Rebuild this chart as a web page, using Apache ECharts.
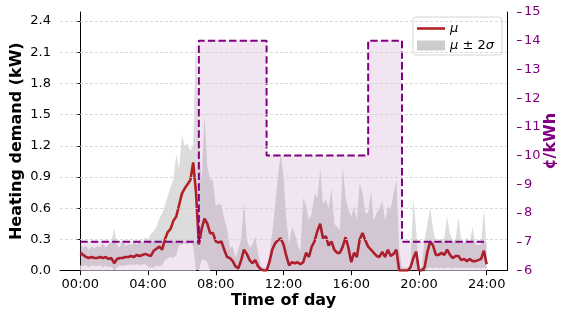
<!DOCTYPE html>
<html><head><meta charset="utf-8">
<script src="https://cdn.jsdelivr.net/npm/echarts@6/dist/echarts.min.js"></script>
<style>html,body{margin:0;padding:0;background:#fff}#c{width:565px;height:310px}</style>
</head><body><div id="c"></div><script>
// sampling step of the demand profile (minutes)
const STEP_MIN = 10;
// mean heating demand (kW), every 10 min from 00:00 to 24:00
const meanKW = [
0.17,0.15,0.13,0.12,0.13,0.12,0.12,0.13,0.12,0.13,0.11,0.12,0.07,0.11,0.12,0.12,0.13,0.13,0.14,0.13,0.15,0.14,0.15,0.16,
0.15,0.14,0.19,0.21,0.23,0.20,0.30,0.37,0.40,0.48,0.52,0.63,0.74,0.79,0.83,0.87,1.04,0.75,
0.25,0.40,0.50,0.45,0.36,0.36,0.28,0.27,0.28,0.20,0.13,0.12,0.09,0.04,0.02,0.10,0.20,0.16,0.10,0.07,0.10,0.04,0.01,0.00,
0.00,0.08,0.20,0.26,0.29,0.31,0.25,0.14,0.05,0.08,0.07,0.08,0.06,0.08,0.17,0.13,0.23,0.28,0.38,0.45,0.31,0.33,0.24,0.28,
0.20,0.17,0.17,0.23,0.32,0.22,0.08,0.17,0.13,0.30,0.36,0.29,0.23,0.20,0.17,0.14,0.13,0.18,0.13,0.20,0.14,0.16,0.20,0.00,
0.00,0.00,0.00,0.03,0.12,0.18,0.00,0.00,0.03,0.18,0.28,0.24,0.15,0.15,0.17,0.15,0.20,0.15,0.12,0.14,0.14,0.10,0.11,0.09,
0.11,0.09,0.09,0.10,0.11,0.19,0.06];
// upper edge of the mu +/- 2 sigma band (kW)
const upperKW = [
0.25,0.22,0.24,0.20,0.23,0.21,0.24,0.22,0.26,0.22,0.25,0.28,0.41,0.25,0.22,0.31,0.23,0.26,0.24,0.28,0.25,0.30,0.27,0.32,
0.30,0.35,0.38,0.42,0.50,0.55,0.63,0.72,0.80,0.88,1.12,0.98,1.30,1.20,1.22,1.15,1.20,2.28,
1.25,0.85,1.50,1.00,0.88,0.86,0.62,0.64,0.63,0.50,0.40,0.22,0.23,0.12,0.20,0.30,0.66,0.30,0.22,0.25,0.33,0.16,0.04,0.03,
0.02,0.15,0.36,0.62,0.90,1.13,0.90,0.50,0.25,0.42,0.35,0.25,0.18,0.70,0.62,0.48,0.55,0.74,0.70,0.98,0.64,0.68,0.60,0.79,
0.45,0.42,0.39,1.00,0.70,0.60,0.52,0.61,0.48,0.84,0.75,0.55,0.55,0.76,0.48,0.55,0.60,0.67,0.48,0.61,0.60,0.74,0.87,0.20,
0.03,0.03,0.03,0.05,0.70,0.40,0.03,0.03,0.30,0.45,0.60,0.40,0.28,0.30,0.29,0.32,0.52,0.35,0.28,0.30,0.52,0.28,0.26,0.32,
0.28,0.42,0.25,0.24,0.25,0.60,0.20];
// lower edge of the band (kW)
const lowerKW = [
0.05,0.04,0.05,0.03,0.05,0.04,0.04,0.05,0.03,0.05,0.03,0.04,0.00,0.03,0.05,0.04,0.05,0.05,0.06,0.05,0.06,0.05,0.06,0.06,
0.04,0.03,0.03,0.05,0.04,0.05,0.10,0.12,0.13,0.12,0.15,0.24,0.25,0.26,0.25,0.27,0.24,0.00,
0.00,0.10,0.10,0.08,0.00,0.00,0.00,0.00,0.00,0.00,0.00,0.00,0.00,0.00,0.00,0.00,0.00,0.00,0.00,0.00,0.00,0.00,0.00,0.00,
0.00,0.00,0.00,0.00,0.00,0.00,0.00,0.00,0.00,0.00,0.00,0.00,0.00,0.00,0.00,0.00,0.00,0.00,0.00,0.00,0.00,0.00,0.00,0.00,
0.00,0.00,0.00,0.00,0.00,0.00,0.00,0.00,0.00,0.00,0.00,0.00,0.00,0.00,0.00,0.00,0.00,0.00,0.00,0.00,0.00,0.00,0.00,0.00,
0.00,0.00,0.00,0.00,0.00,0.00,0.00,0.00,0.00,0.02,0.03,0.02,0.03,0.02,0.03,0.02,0.03,0.03,0.02,0.03,0.02,0.03,0.02,0.03,
0.02,0.03,0.02,0.03,0.02,0.03,0.02];
// time-of-use electricity price (step function)
const priceHours = [0, 7, 7, 11, 11, 17, 17, 19, 19, 24];
const priceCents = [7, 7, 14, 14, 10, 10, 14, 14, 7, 7];
// ticks
const xTickHours = [0, 4, 8, 12, 16, 20, 24];
const yTicksKW = [0, 0.3, 0.6, 0.9, 1.2, 1.5, 1.8, 2.1, 2.4];

const hourOf = i => i * STEP_MIN / 60;
const meanData = meanKW.map((v, i) => [hourOf(i), v]);
const lowerData = lowerKW.map((v, i) => [hourOf(i), v]);
const upperData = upperKW.map((v, i) => [hourOf(i), v]);
const priceData = priceHours.map((h, i) => [h, priceCents[i]]);

const FONT = 'DejaVu Sans';
const chart = echarts.init(document.getElementById('c'), null, {renderer: 'canvas'});
chart.setOption({
  animation: false,
  textStyle: {fontFamily: FONT},
  grid: {left: 60, right: 58, top: 12, bottom: 39.5, containLabel: false, outerBoundsMode: 'none'},
  legend: {
    orient: 'vertical', left: 413, top: 17,
    padding: [5, 8, 3, 4], itemGap: 4, itemWidth: 28, itemHeight: 10, symbolKeepAspect: true,
    backgroundColor: 'rgba(255,255,255,0.8)', borderColor: '#d5d5d5', borderWidth: 1, borderRadius: 3,
    data: [
      {name: 'μ', icon: 'path://M0,0L28,0L28,2.6L0,2.6Z', itemStyle: {color: '#b22222', borderWidth: 0}},
      {name: 'μ ± 2σ', icon: 'rect', itemStyle: {color: '#cccccc', borderWidth: 0}}
    ],
    formatter: n => n === 'μ' ? '{i|μ}' : '{i|μ} ± 2{i|σ}',
    textStyle: {fontFamily: FONT, fontSize: 13, color: '#000',
      rich: {i: {fontFamily: FONT, fontStyle: 'italic', fontSize: 13, color: '#000'}}}
  },
  xAxis: {
    type: 'value', min: -1.2, max: 25.2,
    axisLine: {lineStyle: {color: '#000', width: 1}},
    axisTick: {customValues: xTickHours, length: 4.7, lineStyle: {color: '#000'}},
    axisLabel: {customValues: xTickHours, margin: 8, fontSize: 13, color: '#000', fontFamily: FONT,
      formatter: v => String(v).padStart(2, '0') + ':00'},
    splitLine: {show: false},
    name: 'Time of day', nameLocation: 'middle', nameGap: 22, nameMoveOverlap: false,
    nameTextStyle: {fontFamily: FONT, fontWeight: 'bold', fontSize: 16, color: '#000'}
  },
  yAxis: [
    {
      type: 'value', position: 'left', min: 0, max: 2.487,
      axisLine: {show: true, lineStyle: {color: '#000', width: 1}},
      axisTick: {show: true, customValues: yTicksKW, length: 4.7, lineStyle: {color: '#000'}},
      axisLabel: {customValues: yTicksKW, margin: 9, fontSize: 13, color: '#000', fontFamily: FONT,
        formatter: v => v.toFixed(1)},
      splitLine: {show: false},
      name: 'Heating demand (kW)', nameLocation: 'middle', nameGap: 35, nameRotate: 90, nameMoveOverlap: false,
      nameTextStyle: {fontFamily: FONT, fontWeight: 'bold', fontSize: 16, color: '#000'}
    },
    {
      type: 'value', position: 'right', offset: 10, min: 6, max: 15, interval: 1,
      axisLine: {show: false},
      axisTick: {show: true, length: 4.7, lineStyle: {color: '#800080'}},
      axisLabel: {margin: 7, fontSize: 13, color: '#800080', fontFamily: FONT},
      splitLine: {show: false},
      name: '¢/kWh', nameLocation: 'middle', nameGap: 26, nameRotate: 90, nameMoveOverlap: false,
      nameTextStyle: {fontFamily: FONT, fontWeight: 'bold', fontSize: 16, color: '#800080'}
    },
    {
      type: 'value', position: 'right', offset: 0, min: 0, max: 1,
      axisLine: {show: true, lineStyle: {color: '#000', width: 1}},
      axisTick: {show: false}, axisLabel: {show: false}, splitLine: {show: false}
    }
  ],
  series: [
    {
      name: 'μ ± 2σ', type: 'line', data: upperData, symbol: 'none', silent: true,
      itemStyle: {color: '#cccccc'},
      lineStyle: {opacity: 0},
      areaStyle: {color: 'rgba(128,128,128,0.4)', origin: 'start'}, z: 2
    },
    {
      name: 'lower', type: 'line', data: lowerData, symbol: 'none', silent: true,
      itemStyle: {color: '#ffffff'},
      lineStyle: {opacity: 0},
      areaStyle: {color: '#ffffff', opacity: 1, origin: 'start'}, z: 2,
      markLine: {
        silent: true, symbol: ['none', 'none'], label: {show: false}, animation: false,
        lineStyle: {color: '#cfcfcf', type: [3, 2], width: 0.8},
        emphasis: {disabled: true},
        data: yTicksKW.filter(v => v > 0).map(v => ({yAxis: v}))
      }
    },
    {
      name: 'μ', type: 'line', data: meanData, symbol: 'none', silent: true,
      itemStyle: {color: '#b22222'},
      lineStyle: {color: '#b22222', width: 2.6}, z: 3
    },
    {
      name: 'price', type: 'line', yAxisIndex: 1, data: priceData, symbol: 'none', silent: true,
      itemStyle: {color: '#800080'},
      lineStyle: {color: '#800080', width: 2, type: [7.4, 3.2]},
      areaStyle: {color: '#800080', opacity: 0.1, origin: 'start'}, z: 4
    }
  ]
});
</script></body></html>
